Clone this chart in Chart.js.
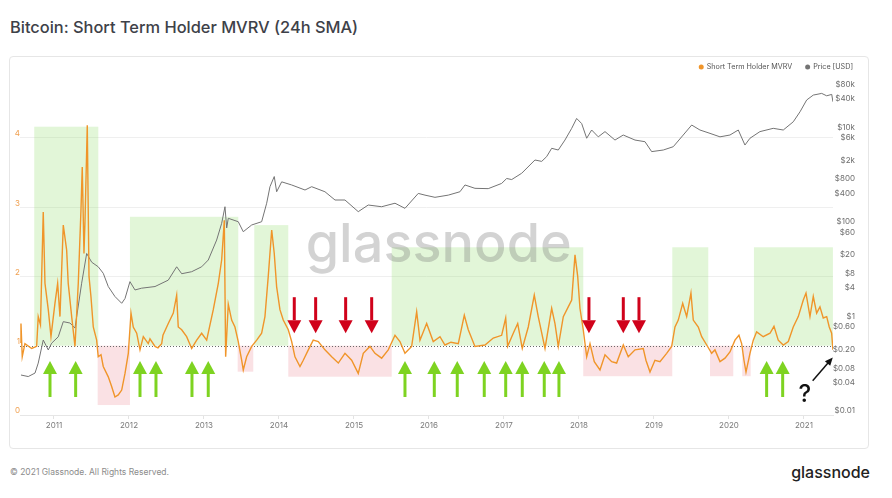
<!DOCTYPE html>
<html>
<head>
<meta charset="utf-8">
<script src="https://cdn.jsdelivr.net/npm/chart.js@4.4.0/dist/chart.umd.min.js"></script>
<style>
    html, body { margin: 0; padding: 0; background: #fff; }
    body { width: 892px; height: 498px; position: relative; overflow: hidden; font-family: Inter, "Noto Sans", sans-serif; }
    .title { position: absolute; left: 10px; top: 17px; font-size: 16.4px; font-weight: 500; color: #3e4148; line-height: 20px; white-space: nowrap; }
    .card { position: absolute; left: 9px; top: 56px; width: 860px; height: 393px; box-sizing: border-box; border: 1px solid #e6e6e6; border-radius: 4px; }
    .chart_wrap { position: absolute; left: 9px; top: 56px; width: 860px; height: 393px; }
    .footer { position: absolute; left: 10px; top: 466px; font-size: 8.5px; color: #8c8c8c; line-height: 12px; white-space: nowrap; }
    .logo { position: absolute; right: 22px; top: 462px; font-size: 16px; font-weight: 500; color: #222; line-height: 20px; }
</style>
</head>
<body>
<div class="title">Bitcoin: Short Term Holder MVRV (24h SMA)</div>
<div class="card"></div>
<div class="chart_wrap"><canvas id="chart"></canvas></div>
<div class="footer">© 2021 Glassnode. All Rights Reserved.</div>
<div class="logo">glassnode</div>

<script>
// Данные (годы в десятичном виде)
const mvrvYears = [
    2010.550, 2010.560, 2010.577, 2010.613, 2010.703, 2010.769, 2010.790, 2010.820, 2010.857, 2010.880,
    2010.924, 2010.960, 2011.013, 2011.049, 2011.080, 2011.124, 2011.169, 2011.190, 2011.236, 2011.280,
    2011.324, 2011.360, 2011.377, 2011.400, 2011.413, 2011.444, 2011.467, 2011.493, 2011.524, 2011.569,
    2011.590, 2011.627, 2011.657, 2011.724, 2011.769, 2011.813, 2011.857, 2011.903, 2011.947, 2011.991,
    2012.027, 2012.057, 2012.103, 2012.147, 2012.191, 2012.257, 2012.280, 2012.347, 2012.387, 2012.436,
    2012.453, 2012.524, 2012.591, 2012.636, 2012.657, 2012.703, 2012.769, 2012.836, 2012.903, 2012.969,
    2013.036, 2013.124, 2013.191, 2013.236, 2013.271, 2013.289, 2013.324, 2013.369, 2013.413, 2013.457,
    2013.503, 2013.524, 2013.569, 2013.636, 2013.703, 2013.769, 2013.813, 2013.857, 2013.903, 2013.937,
    2013.969, 2014.013, 2014.057, 2014.124, 2014.169, 2014.213, 2014.280, 2014.324, 2014.391, 2014.457,
    2014.524, 2014.613, 2014.703, 2014.791, 2014.880, 2014.969, 2015.057, 2015.124, 2015.213, 2015.280,
    2015.369, 2015.457, 2015.547, 2015.613, 2015.680, 2015.769, 2015.836, 2015.880, 2015.969, 2016.057,
    2016.147, 2016.213, 2016.293, 2016.391, 2016.471, 2016.524, 2016.613, 2016.747, 2016.857, 2016.969,
    2017.023, 2017.049, 2017.124, 2017.183, 2017.244, 2017.324, 2017.404, 2017.457, 2017.547, 2017.636,
    2017.680, 2017.724, 2017.791, 2017.857, 2017.903, 2017.947, 2017.983, 2018.013, 2018.057, 2018.103,
    2018.147, 2018.204, 2018.280, 2018.347, 2018.436, 2018.502, 2018.591, 2018.657, 2018.747, 2018.857,
    2018.893, 2018.947, 2019.013, 2019.080, 2019.169, 2019.236, 2019.280, 2019.324, 2019.383, 2019.436,
    2019.493, 2019.524, 2019.591, 2019.636, 2019.703, 2019.769, 2019.813, 2019.880, 2019.947, 2020.013,
    2020.080, 2020.133, 2020.169, 2020.200, 2020.227, 2020.280, 2020.324, 2020.369, 2020.457, 2020.547,
    2020.600, 2020.657, 2020.724, 2020.791, 2020.857, 2020.924, 2020.991, 2021.027, 2021.080, 2021.124,
    2021.169, 2021.213, 2021.257, 2021.303, 2021.337, 2021.369, 2021.386
];
const mvrvValues = [
    1.05, 1.32, 0.84, 1.03, 0.96, 0.99, 1.42, 1.30, 2.93, 1.90,
    1.52, 1.13, 1.61, 1.90, 1.42, 2.74, 2.38, 1.90, 1.42, 0.99,
    1.90, 2.96, 3.58, 2.33, 2.77, 4.18, 2.00, 1.71, 1.27, 1.08,
    0.84, 0.87, 0.70, 0.55, 0.41, 0.26, 0.29, 0.36, 0.60, 0.89,
    1.47, 1.27, 1.18, 0.94, 1.13, 1.03, 1.10, 0.99, 0.97, 1.03,
    1.15, 1.32, 1.47, 1.73, 1.27, 1.23, 1.13, 0.96, 1.08, 1.18,
    1.08, 1.52, 1.90, 2.24, 2.81, 0.84, 1.60, 1.37, 1.27, 1.06,
    0.79, 0.65, 0.84, 0.99, 1.08, 1.18, 1.42, 2.00, 2.67, 2.33,
    1.85, 1.52, 1.37, 1.23, 1.06, 0.84, 0.70, 0.79, 0.94, 1.08,
    1.06, 0.94, 0.84, 0.75, 0.89, 0.79, 0.60, 0.89, 0.99, 0.89,
    0.82, 0.94, 1.15, 1.06, 0.89, 0.99, 1.49, 1.08, 1.32, 1.06,
    1.13, 1.01, 1.05, 1.03, 1.44, 1.23, 0.99, 1.01, 1.11, 1.15,
    1.40, 0.99, 1.18, 1.32, 0.96, 1.27, 1.73, 1.42, 0.96, 1.54,
    1.32, 0.99, 1.42, 1.56, 1.66, 2.31, 2.00, 1.54, 1.23, 0.84,
    1.03, 0.77, 0.65, 0.87, 0.77, 0.75, 1.01, 0.84, 0.94, 0.96,
    0.79, 0.62, 0.79, 0.77, 0.89, 0.99, 1.27, 1.37, 1.61, 1.42,
    1.76, 1.37, 1.27, 1.13, 1.01, 0.89, 0.94, 0.77, 0.82, 0.91,
    1.08, 1.15, 1.03, 0.79, 0.62, 0.89, 1.08, 1.20, 1.13, 1.18,
    1.28, 1.08, 1.01, 1.06, 1.27, 1.42, 1.66, 1.76, 1.42, 1.71,
    1.47, 1.56, 1.40, 1.42, 1.27, 1.18, 0.94
];

const priceYears = [
    2010.560, 2010.657, 2010.747, 2010.790, 2010.857, 2010.924, 2010.969, 2011.057, 2011.124, 2011.213,
    2011.280, 2011.369, 2011.436, 2011.503, 2011.590, 2011.657, 2011.724, 2011.813, 2011.903, 2011.947,
    2012.013, 2012.080, 2012.169, 2012.347, 2012.524, 2012.636, 2012.703, 2012.836, 2012.969, 2013.057,
    2013.169, 2013.236, 2013.280, 2013.303, 2013.324, 2013.457, 2013.524, 2013.636, 2013.769, 2013.836,
    2013.880, 2013.937, 2013.969, 2014.036, 2014.169, 2014.347, 2014.436, 2014.613, 2014.747, 2014.880,
    2015.057, 2015.190, 2015.369, 2015.547, 2015.680, 2015.857, 2015.947, 2016.080, 2016.257, 2016.413,
    2016.480, 2016.613, 2016.790, 2016.969, 2017.036, 2017.103, 2017.236, 2017.413, 2017.503, 2017.569,
    2017.636, 2017.724, 2017.813, 2017.903, 2017.969, 2018.036, 2018.103, 2018.169, 2018.257, 2018.347,
    2018.480, 2018.590, 2018.747, 2018.880, 2018.969, 2019.124, 2019.257, 2019.390, 2019.503, 2019.613,
    2019.747, 2019.880, 2020.013, 2020.124, 2020.213, 2020.280, 2020.413, 2020.590, 2020.724, 2020.857,
    2020.947, 2021.036, 2021.124, 2021.236, 2021.303, 2021.370, 2021.386
];
const priceValues = [
    0.070, 0.065, 0.077, 0.125, 0.385, 0.237, 0.33, 0.45, 0.94, 0.88,
    0.69, 6.1, 26, 17, 13.6, 9.9, 5.2, 3.2, 2.3, 2.9,
    6.6, 4.4, 4.8, 5.2, 7.1, 13.6, 9.7, 10.7, 13.6, 18.9,
    50, 113, 253, 90, 144, 122, 75, 104, 122, 300,
    671, 1100, 525, 850, 730, 571, 671, 525, 351, 351,
    199, 275, 253, 300, 234, 484, 445, 400, 445, 525,
    730, 620, 610, 787, 1000, 950, 1290, 2460, 2300, 2900,
    4350, 4000, 6500, 11500, 18600, 14500, 7100, 10600, 7600, 9800,
    6500, 8300, 6500, 6000, 3700, 4000, 4700, 8300, 13500, 10600,
    9000, 7600, 8300, 10600, 5100, 7100, 9800, 11500, 10600, 15800,
    25700, 45700, 58000, 63000, 56000, 60000, 42000
];

const yearTicks = [2011, 2012, 2013, 2014, 2015, 2016, 2017, 2018, 2019, 2020, 2021];
const mvrvTicks = [0, 1, 2, 3, 4];
const priceTicks = [0.01, 0.04, 0.08, 0.2, 0.6, 1, 4, 8, 20, 60, 100, 400, 800, 2000, 6000, 10000, 40000, 80000];
const priceTickLabels = ['$0.01', '$0.04', '$0.08', '$0.20', '$0.60', '$1', '$4', '$8', '$20', '$60', '$100', '$400', '$800', '$2k', '$6k', '$10k', '$40k', '$80k'];

// Зоны: [начало, конец, граница по MVRV]
const greenZones = [
    [2010.737, 2011.591, 4.16],
    [2012.013, 2013.457, 2.86],
    [2013.671, 2014.124, 2.74],
    [2015.503, 2018.057, 2.42],
    [2019.244, 2019.724, 2.42],
    [2020.333, 2021.386, 2.42]
];
const redZones = [
    [2011.583, 2012.013, 0.144],
    [2013.449, 2013.657, 0.625],
    [2014.124, 2015.503, 0.553],
    [2018.057, 2019.244, 0.56],
    [2019.747, 2020.057, 0.56],
    [2020.177, 2020.289, 0.56]
];
const buyArrows = [2010.947, 2011.289, 2012.147, 2012.36, 2012.84, 2013.057, 2015.68, 2016.071,
    2016.377, 2016.737, 2017.023, 2017.244, 2017.537, 2017.733, 2020.502, 2020.716];
const sellArrows = [2014.204, 2014.489, 2014.889, 2015.236, 2018.133, 2018.591, 2018.8];

const ORANGE = '#f0952a';
const GREY = '#747474';

function drawArrow(ctx, x, yTail, yTip, color) {
    const dir = Math.sign(yTip - yTail);
    const headL = 13, headW = 7;
    ctx.strokeStyle = color;
    ctx.fillStyle = color;
    ctx.lineWidth = 3;
    ctx.beginPath();
    ctx.moveTo(x, yTail);
    ctx.lineTo(x, yTip - dir * headL);
    ctx.stroke();
    ctx.beginPath();
    ctx.moveTo(x - headW, yTip - dir * headL);
    ctx.lineTo(x + headW, yTip - dir * headL);
    ctx.lineTo(x, yTip);
    ctx.closePath();
    ctx.fill();
}

const annotations = {
    id: 'annotations',
    beforeDatasetsDraw(chart) {
        const {ctx, chartArea, scales} = chart;
        const x = scales.x, y = scales.y;
        ctx.save();
        ctx.beginPath();
        ctx.rect(chartArea.left, chartArea.top, chartArea.width, chartArea.height);
        ctx.clip();

        const base = y.getPixelForValue(1);
        ctx.fillStyle = 'rgba(140, 220, 100, 0.25)';
        greenZones.forEach(([from, to, edge]) => {
            const l = x.getPixelForValue(from), r = x.getPixelForValue(to);
            const t = y.getPixelForValue(edge);
            ctx.fillRect(l, t, r - l, base - t);
        });
        ctx.fillStyle = 'rgba(230, 120, 130, 0.22)';
        redZones.forEach(([from, to, edge]) => {
            const l = x.getPixelForValue(from), r = x.getPixelForValue(to);
            const b = y.getPixelForValue(edge);
            ctx.fillRect(l, base, r - l, b - base);
        });

        // водяной знак
        ctx.font = '500 54px Inter';
        ctx.fillStyle = 'rgba(110, 110, 110, 0.3)';
        ctx.textAlign = 'center';
        ctx.textBaseline = 'alphabetic';
        ctx.fillText('glassnode', chartArea.left + chartArea.width * 0.515, chartArea.top + chartArea.height * 0.567);

        // линия MVRV = 1
        ctx.strokeStyle = '#6a6a6a';
        ctx.lineWidth = 1;
        ctx.setLineDash([1, 2]);
        ctx.beginPath();
        ctx.moveTo(chartArea.left, Math.round(base) + 0.5);
        ctx.lineTo(chartArea.right, Math.round(base) + 0.5);
        ctx.stroke();
        ctx.restore();
    },
    afterDatasetsDraw(chart) {
        const {ctx, scales} = chart;
        const x = scales.x, y = scales.y;
        ctx.save();
        buyArrows.forEach(v => drawArrow(ctx, x.getPixelForValue(v), y.getPixelForValue(0.26), y.getPixelForValue(0.78), '#7ed321'));
        sellArrows.forEach(v => drawArrow(ctx, x.getPixelForValue(v), y.getPixelForValue(1.70), y.getPixelForValue(1.18), '#d0021b'));

        // стрелка с вопросом
        const x0 = x.getPixelForValue(2021.116), y0 = y.getPixelForValue(0.495);
        const x1 = x.getPixelForValue(2021.384), y1 = y.getPixelForValue(0.83);
        const a = Math.atan2(y1 - y0, x1 - x0);
        ctx.strokeStyle = '#111';
        ctx.fillStyle = '#111';
        ctx.lineWidth = 1.5;
        ctx.beginPath();
        ctx.moveTo(x0, y0);
        ctx.lineTo(x1 - 6 * Math.cos(a), y1 - 6 * Math.sin(a));
        ctx.stroke();
        ctx.beginPath();
        ctx.moveTo(x1, y1);
        ctx.lineTo(x1 - 8 * Math.cos(a) + 3.5 * Math.sin(a), y1 - 8 * Math.sin(a) - 3.5 * Math.cos(a));
        ctx.lineTo(x1 - 8 * Math.cos(a) - 3.5 * Math.sin(a), y1 - 8 * Math.sin(a) + 3.5 * Math.cos(a));
        ctx.closePath();
        ctx.fill();
        ctx.font = '500 24px Inter';
        ctx.textAlign = 'center';
        ctx.textBaseline = 'middle';
        ctx.fillText('?', x.getPixelForValue(2021.013), y.getPixelForValue(0.29));
        ctx.restore();
    },
    afterDraw(chart) {
        // легенда справа сверху
        const {ctx} = chart;
        ctx.save();
        ctx.font = '7.2px Inter';
        ctx.textBaseline = 'middle';
        ctx.textAlign = 'left';
        let right = chart.width - 16;
        const sets = chart.data.datasets;
        for (let i = sets.length - 1; i >= 0; i--) {
            const w = ctx.measureText(sets[i].label).width;
            const tx = right - w;
            ctx.fillStyle = '#555';
            ctx.fillText(sets[i].label, tx, 11);
            ctx.fillStyle = sets[i].borderColor;
            ctx.beginPath();
            ctx.arc(tx - 5.5, 11, 2.5, 0, Math.PI * 2);
            ctx.fill();
            right = tx - 5.5 - 2.5 - 13;
        }
        ctx.restore();
    }
};

const options = {
    responsive: true,
    maintainAspectRatio: false,
    animation: false,
    layout: { padding: { top: 6, right: 14, bottom: 0, left: 0 } },
    plugins: {
        legend: { display: false },
        tooltip: { enabled: false }
    },
    elements: { point: { radius: 0 } },
    scales: {
        x: {
            type: 'linear',
            min: 2010.547,
            max: 2021.387,
            afterBuildTicks: s => { s.ticks = yearTicks.map(v => ({value: v})); },
            afterFit: s => { s.height = 34; },
            grid: { drawOnChartArea: false, tickLength: 4, tickColor: '#e3e3e3' },
            border: { color: '#e6e6e6' },
            ticks: {
                autoSkip: false, maxRotation: 0, padding: 2, color: '#7a7a7a',
                font: { family: 'Inter', size: 8 },
                callback: v => String(v)
            }
        },
        y: {
            position: 'left',
            min: 0,
            max: 5.094,
            afterBuildTicks: s => { s.ticks = mvrvTicks.map(v => ({value: v})); },
            afterFit: s => { s.width = 11; },
            grid: {
                drawTicks: false,
                color: c => (c.tick && c.tick.value === 1) ? 'rgba(0,0,0,0)' : '#efefef'
            },
            border: { display: false },
            ticks: { padding: 0, labelOffset: -4, color: '#f0a050', font: { family: 'Inter', size: 8 } }
        },
        price: {
            type: 'logarithmic',
            position: 'right',
            min: 0.01,
            max: 290400,
            afterBuildTicks: s => { s.ticks = priceTicks.map(v => ({value: v})); },
            afterFit: s => { s.width = 22; },
            grid: { display: false },
            border: { display: false },
            ticks: {
                autoSkip: false, padding: 0, crossAlign: 'far', labelOffset: -4, color: '#6e6e6e',
                font: { family: 'Inter', size: 8 },
                callback: (v, i) => priceTickLabels[i]
            }
        }
    }
};

const data = {
    datasets: [
        {
            label: 'Short Term Holder MVRV',
            data: mvrvYears.map((yr, i) => ({x: yr, y: mvrvValues[i]})),
            borderColor: ORANGE,
            borderWidth: 1.4,
            yAxisID: 'y'
        },
        {
            label: 'Price [USD]',
            data: priceYears.map((yr, i) => ({x: yr, y: priceValues[i]})),
            borderColor: GREY,
            borderWidth: 1,
            yAxisID: 'price'
        }
    ]
};

new Chart(document.getElementById('chart'), {
    type: 'line',
    data: data,
    options: options,
    plugins: [annotations]
});
</script>
</body>
</html>
